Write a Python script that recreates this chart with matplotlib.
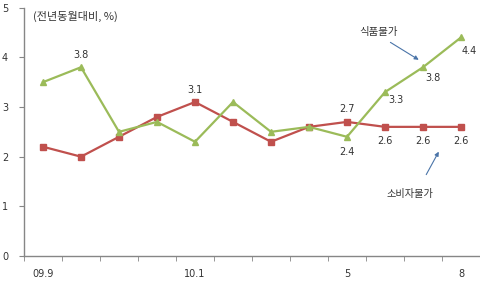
import matplotlib
matplotlib.use("Agg")
import matplotlib.pyplot as plt

plt.rcParams['font.family'] = ['DejaVu Sans', 'Noto Sans CJK KR']

months = ["09.9", "09.10", "09.11", "09.12", "10.1", "10.2", "10.3", "10.4", "10.5", "10.6", "10.7", "10.8"]
tick_labels = ["09.9", "", "", "", "10.1", "", "", "", "5", "", "", "8"]
food = [3.5, 3.8, 2.5, 2.7, 2.3, 3.1, 2.5, 2.6, 2.4, 3.3, 3.8, 4.4]
cpi = [2.2, 2.0, 2.4, 2.8, 3.1, 2.7, 2.3, 2.6, 2.7, 2.6, 2.6, 2.6]

green = "#9BBB59"
red = "#C0504D"
axc = "#868686"
txt = "#333333"
kr = ['Noto Sans CJK KR', 'DejaVu Sans']

fig = plt.figure(figsize=(4.8, 2.82), dpi=100)
ax = fig.add_axes([0.05, 0.092, 0.95, 0.881])
x = list(range(len(months)))
ax.plot(x, cpi, color=red, lw=1.6, marker="s", ms=4.5, zorder=3)
ax.plot(x, food, color=green, lw=1.6, marker="^", ms=5, zorder=3)

ax.set_xlim(-0.5, len(months) - 0.5)
ax.set_ylim(0, 5)
ax.set_yticks([0, 1, 2, 3, 4, 5])
ax.set_xticks([i + 0.5 for i in range(-1, len(months))], minor=True)
ax.set_xticks(x)
ax.set_xticklabels(tick_labels)
ax.tick_params(axis='x', which='major', length=0, pad=9, labelsize=7, colors=txt)
ax.tick_params(axis='x', which='minor', length=3.5, color=axc, direction='out')
ax.tick_params(axis='y', length=3.5, color=axc, direction='out', labelsize=7, labelcolor=txt, pad=8)
for s in ['top', 'right']:
    ax.spines[s].set_visible(False)
for s in ['left', 'bottom']:
    ax.spines[s].set_color(axc)
    ax.spines[s].set_linewidth(1.0)

def lab(i, v, dx, dy, s=None):
    ax.annotate(s if s else f"{v:.1f}", (i, v), xytext=(dx, dy), textcoords="offset points",
                ha="center", va="center", fontsize=7, color=txt)

lab(1, food[1], 0, 9)
lab(4, cpi[4], 0, 9)
lab(8, cpi[8], 0, 9)
lab(8, food[8], 0, -11)
lab(9, food[9], 8, -6)
lab(10, food[10], 7, -8)
lab(11, food[11], 6, -10)
for i in (9, 10, 11):
    lab(i, cpi[i], 0, -10)

ax.text(0.02, 0.965, "(전년동월대비, %)", transform=ax.transAxes, fontsize=8, color=txt,
        va="center", ha="left", family=kr)

arrow_c = "#4A74A8"
ax.annotate("", xy=(9.95, 3.92), xytext=(9.08, 4.33),
            arrowprops=dict(arrowstyle="-|>", color=arrow_c, lw=0.8, mutation_scale=6))
ax.text(8.82, 4.5, "식품물가", fontsize=7.5, color=txt, ha="center", va="center", family=kr)
ax.annotate("", xy=(10.45, 2.15), xytext=(10.05, 1.59),
            arrowprops=dict(arrowstyle="-|>", color=arrow_c, lw=0.8, mutation_scale=6))
ax.text(9.66, 1.25, "소비자물가", fontsize=7.3, color=txt, ha="center", va="center", family=kr)

fig.savefig("out.png", dpi=100)
